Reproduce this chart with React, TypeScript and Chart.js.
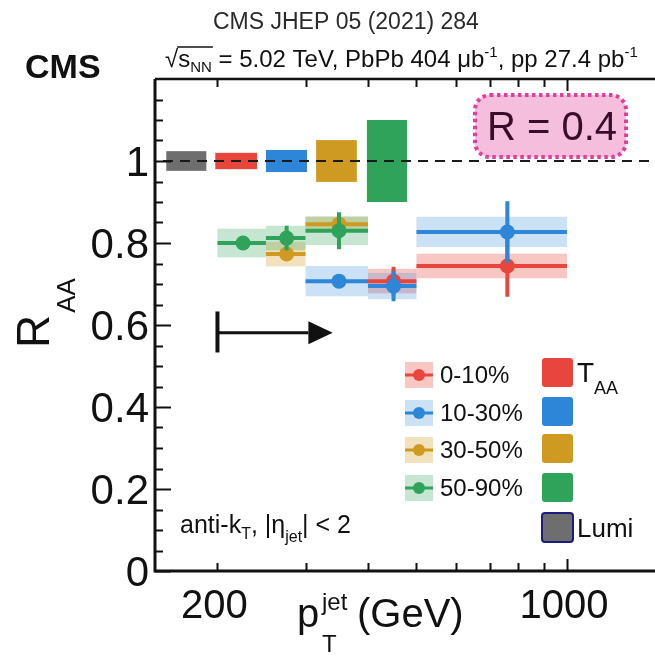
import React, { useEffect, useRef } from 'react';
import { Chart, registerables } from 'chart.js';
Chart.register(...registerables);

const FF = "'Liberation Sans', Arial, Helvetica, sans-serif";

// pT bins (GeV)
const binLow = [200, 250, 300, 400, 500];
const binHigh = [250, 300, 400, 500, 1000];
const binPoint = [225, 275, 350, 450, 760];

// centrality classes
const seriesNames = ['0-10%', '10-30%', '30-50%', '50-90%'];
const seriesColors = ['#e8463c', '#2e86d9', '#cf9a22', '#2fa35a'];
const seriesBoxColors = ['rgba(232,70,60,0.30)', 'rgba(46,134,217,0.25)', 'rgba(207,154,34,0.30)', 'rgba(47,163,90,0.27)'];

const bins010 = [3, 4];
const raa010 = [0.707, 0.744];
const stat010 = [0.035, 0.075];
const sys010 = [0.03, 0.03];

const bins1030 = [2, 3, 4];
const raa1030 = [0.707, 0.695, 0.827];
const stat1030 = [0.012, 0.037, 0.075];
const sys1030 = [0.037, 0.032, 0.037];

const bins3050 = [1, 2];
const raa3050 = [0.773, 0.846];
const stat3050 = [0.015, 0.02];
const sys3050 = [0.03, 0.018];

const bins5090 = [0, 1, 2];
const raa5090 = [0.80, 0.812, 0.83];
const stat5090 = [0.012, 0.03, 0.045];
const sys5090 = [0.035, 0.03, 0.035];

// normalisation uncertainties at RAA = 1 (Lumi, TAA per class)
const normNames = ['Lumi', '0-10%', '10-30%', '30-50%', '50-90%'];
const normLow = [158, 198, 250, 315, 398];
const normHigh = [190, 240, 302, 380, 479];
const normErr = [0.024, 0.02, 0.027, 0.051, 0.1];
const normColors = ['#6e6e6e', '#e8463c', '#2e86d9', '#cf9a22', '#2fa35a'];

// axis ticks
const xTicks = [200, 300, 400, 500, 600, 700, 800, 900, 1000];
const xLabels = [200, 1000];
const yTicks = [0, 0.05, 0.1, 0.15, 0.2, 0.25, 0.3, 0.35, 0.4, 0.45, 0.5, 0.55, 0.6, 0.65, 0.7, 0.75, 0.8, 0.85, 0.9, 0.95, 1, 1.05, 1.1, 1.15];
const yLabels = [0, 0.2, 0.4, 0.6, 0.8, 1];

// arrow annotation (pT > 200)
const arrowX = [200, 304, 340];
const arrowY = [0.581, 0.633, 0.533, 0.609, 0.553];

const seriesBins = [bins010, bins1030, bins3050, bins5090];
const seriesRaa = [raa010, raa1030, raa3050, raa5090];
const seriesStat = [stat010, stat1030, stat3050, stat5090];
const seriesSys = [sys010, sys1030, sys3050, sys5090];

function buildDatasets() {
  const ds: any[] = [];
  // draw order bottom -> top: red, blue, gold, green ; lower `order` is drawn on top
  for (let s = 0; s < 4; s++) {
    const base = (3 - s) * 3;
    const h: any[] = [];
    const v: any[] = [];
    const m: any[] = [];
    seriesBins[s].forEach((b, i) => {
      const val = seriesRaa[s][i];
      const e = seriesStat[s][i];
      h.push({ x: binLow[b], y: val }, { x: binHigh[b], y: val }, { x: binHigh[b], y: null });
      v.push({ x: binPoint[b], y: val - e }, { x: binPoint[b], y: val + e }, { x: binPoint[b], y: null });
      m.push({ x: binPoint[b], y: val });
    });
    ds.push({
      type: 'line', label: seriesNames[s] + ' bins', data: h, order: base + 2,
      borderColor: seriesColors[s], borderWidth: 4, pointRadius: 0, fill: false, spanGaps: false, borderCapStyle: 'butt',
    });
    ds.push({
      type: 'line', label: seriesNames[s] + ' stat', data: v, order: base + 1,
      borderColor: seriesColors[s], borderWidth: 4, pointRadius: 0, fill: false, spanGaps: false, borderCapStyle: 'butt',
    });
    ds.push({
      type: 'scatter', label: seriesNames[s], data: m, order: base,
      backgroundColor: seriesColors[s], borderColor: seriesColors[s], borderWidth: 0, pointRadius: 7.5, pointHoverRadius: 7.5,
    });
  }
  return ds;
}

function parts(ctx: CanvasRenderingContext2D, x: number, y: number, list: any[]) {
  let cx = x;
  for (const p of list) {
    ctx.font = `${p.w || 'normal'} ${p.s}px ${FF}`;
    ctx.fillText(p.t, cx, y + (p.dy || 0));
    cx += ctx.measureText(p.t).width + (p.dx || 0);
  }
  return cx;
}

const drawPlugin = {
  id: 'cmsDraw',
  beforeDatasetsDraw(chart: any) {
    const { ctx, chartArea: ca, scales } = chart;
    const xs = scales.x, ys = scales.y;
    ctx.save();
    ctx.beginPath();
    ctx.rect(ca.left, ca.top, ca.right - ca.left, ca.bottom - ca.top);
    ctx.clip();
    // normalisation boxes
    for (let i = 0; i < normLow.length; i++) {
      const x0 = xs.getPixelForValue(normLow[i]);
      const x1 = xs.getPixelForValue(normHigh[i]);
      const y0 = ys.getPixelForValue(1 + normErr[i]);
      const y1 = ys.getPixelForValue(1 - normErr[i]);
      ctx.fillStyle = normColors[i];
      ctx.fillRect(x0, y0, x1 - x0, y1 - y0);
    }
    // dashed unity line
    ctx.setLineDash([10, 7]);
    ctx.lineWidth = 2;
    ctx.strokeStyle = '#1a1a1a';
    ctx.beginPath();
    const y1p = ys.getPixelForValue(1);
    ctx.moveTo(ca.left + 8, y1p);
    ctx.lineTo(ca.right, y1p);
    ctx.stroke();
    ctx.setLineDash([]);
    // systematic boxes
    for (let s = 0; s < 4; s++) {
      ctx.fillStyle = seriesBoxColors[s];
      seriesBins[s].forEach((b, i) => {
        const x0 = xs.getPixelForValue(binLow[b]);
        const x1 = xs.getPixelForValue(binHigh[b]);
        const yt = ys.getPixelForValue(seriesRaa[s][i] + seriesSys[s][i]);
        const yb = ys.getPixelForValue(seriesRaa[s][i] - seriesSys[s][i]);
        ctx.fillRect(x0, yt, x1 - x0, yb - yt);
      });
    }
    ctx.restore();
  },
  afterDraw(chart: any) {
    const { ctx, chartArea: ca, scales } = chart;
    const xs = scales.x, ys = scales.y;
    ctx.save();
    ctx.fillStyle = '#111';
    ctx.strokeStyle = '#111';
    // frame
    ctx.lineWidth = 3;
    ctx.beginPath();
    ctx.moveTo(ca.left, ca.top);
    ctx.lineTo(ca.left, ca.bottom);
    ctx.lineTo(ca.right, ca.bottom);
    ctx.stroke();
    ctx.lineWidth = 2.5;
    ctx.beginPath();
    ctx.moveTo(ca.left, ca.top);
    ctx.lineTo(ca.right, ca.top);
    ctx.stroke();
    // ticks
    ctx.lineWidth = 2;
    for (const t of yTicks) {
      const yp = Math.round(ys.getPixelForValue(t)) + 0.5;
      const len = yLabels.some((l) => Math.abs(l - t) < 1e-6) ? 16 : 8;
      ctx.beginPath();
      ctx.moveTo(ca.left, yp);
      ctx.lineTo(ca.left + len, yp);
      ctx.stroke();
    }
    for (const t of xTicks) {
      const xp = Math.round(xs.getPixelForValue(t)) + 0.5;
      const len = t === 1000 ? 12 : 8;
      ctx.beginPath();
      ctx.moveTo(xp, ca.bottom);
      ctx.lineTo(xp, ca.bottom - len);
      ctx.moveTo(xp, ca.top);
      ctx.lineTo(xp, ca.top + len);
      ctx.stroke();
    }
    // tick labels
    ctx.font = `42px ${FF}`;
    ctx.textAlign = 'right';
    ctx.textBaseline = 'middle';
    for (const l of yLabels) {
      ctx.fillText(String(l), ca.left - 6, ys.getPixelForValue(l) + 3);
    }
    ctx.font = `40px ${FF}`;
    ctx.textAlign = 'center';
    ctx.textBaseline = 'alphabetic';
    for (const l of xLabels) {
      ctx.fillText(String(l), xs.getPixelForValue(l) - 3, 618);
    }
    ctx.textAlign = 'left';
    // x title
    ctx.font = `40px ${FF}`;
    ctx.fillText('p', 297, 627);
    ctx.font = `24px ${FF}`;
    ctx.fillText('jet', 322, 610);
    ctx.fillText('T', 322, 652);
    ctx.font = `40px ${FF}`;
    ctx.fillText('(GeV)', 357, 627);
    // y title
    ctx.save();
    ctx.translate(49, 348);
    ctx.rotate(-Math.PI / 2);
    ctx.font = `46px ${FF}`;
    ctx.fillText('R', 0, 0);
    const rw = ctx.measureText('R').width;
    ctx.font = `26px ${FF}`;
    ctx.fillText('AA', rw + 2, 26);
    ctx.restore();
    // header
    ctx.fillStyle = '#2a2a2a';
    ctx.font = `23px ${FF}`;
    ctx.fillText('CMS JHEP 05 (2021) 284', 213, 29);
    ctx.fillStyle = '#111';
    ctx.font = `bold 34px ${FF}`;
    ctx.fillText('CMS', 25, 78);
    // sqrt line
    const bx = 165, by = 67;
    const fs = 24;
    ctx.font = `${fs}px ${FF}`;
    ctx.fillText('\u221A', bx, by);
    const sqw = ctx.measureText('\u221A').width;
    const endNN = parts(ctx, bx + sqw, by, [{ t: 's', s: fs }, { t: 'NN', s: 15, dy: 5 }]);
    ctx.lineWidth = 1.5;
    ctx.beginPath();
    ctx.moveTo(bx + sqw - 1, by - 20);
    ctx.lineTo(endNN + 1, by - 20);
    ctx.stroke();
    parts(ctx, endNN, by, [
      { t: ' = 5.02 TeV, PbPb 404 \u03BCb', s: fs },
      { t: '-1', s: 15, dy: -10 },
      { t: ', pp 27.4 pb', s: fs },
      { t: '-1', s: 15, dy: -10 },
    ]);
    // anti-kT text
    parts(ctx, 180, 533, [
      { t: 'anti-k', s: 25 },
      { t: 'T', s: 16, dy: 6 },
      { t: ', |\u03B7', s: 25 },
      { t: 'jet', s: 16, dy: 9 },
      { t: '| < 2', s: 25 },
    ]);
    // R box
    const rx0 = 475, ry0 = 95, rx1 = 626, ry1 = 157, rr = 15;
    ctx.beginPath();
    ctx.roundRect(rx0, ry0, rx1 - rx0, ry1 - ry0, rr);
    ctx.fillStyle = '#f4bedc';
    ctx.fill();
    ctx.setLineDash([3.5, 3.5]);
    ctx.lineWidth = 4;
    ctx.strokeStyle = '#e43c9c';
    ctx.stroke();
    ctx.setLineDash([]);
    ctx.fillStyle = '#3a0c2c';
    ctx.font = `40px ${FF}`;
    ctx.fillText('R = 0.4', 487, 140);
    // arrow
    ctx.strokeStyle = '#111';
    ctx.fillStyle = '#111';
    const ax0 = xs.getPixelForValue(arrowX[0]);
    const ax1 = xs.getPixelForValue(arrowX[1]);
    const ax2 = xs.getPixelForValue(arrowX[2]);
    ctx.lineWidth = 4;
    ctx.beginPath();
    ctx.moveTo(ax0, ys.getPixelForValue(arrowY[1]));
    ctx.lineTo(ax0, ys.getPixelForValue(arrowY[2]));
    ctx.stroke();
    ctx.lineWidth = 3;
    ctx.beginPath();
    ctx.moveTo(ax0, ys.getPixelForValue(arrowY[0]));
    ctx.lineTo(ax1, ys.getPixelForValue(arrowY[0]));
    ctx.stroke();
    ctx.beginPath();
    ctx.moveTo(ax1, ys.getPixelForValue(arrowY[3]));
    ctx.lineTo(ax2, ys.getPixelForValue(arrowY[0]));
    ctx.lineTo(ax1, ys.getPixelForValue(arrowY[4]));
    ctx.closePath();
    ctx.fill();
    // legend
    const rowsY = [375, 413, 450, 488];
    for (let s = 0; s < 4; s++) {
      const cy = rowsY[s];
      ctx.fillStyle = seriesBoxColors[s];
      ctx.fillRect(405, cy - 13, 28, 26);
      ctx.strokeStyle = seriesColors[s];
      ctx.lineWidth = 3;
      ctx.beginPath();
      ctx.moveTo(405, cy);
      ctx.lineTo(433, cy);
      ctx.stroke();
      ctx.fillStyle = seriesColors[s];
      ctx.beginPath();
      ctx.arc(419, cy, 6, 0, Math.PI * 2);
      ctx.fill();
      ctx.fillStyle = '#111';
      ctx.font = `24px ${FF}`;
      ctx.textBaseline = 'middle';
      ctx.fillText(seriesNames[s], 440, cy + 1);
      ctx.textBaseline = 'alphabetic';
    }
    const sqY = [358, 397, 434, 473, 513];
    const sqCols = [normColors[1], normColors[2], normColors[3], normColors[4], normColors[0]];
    for (let i = 0; i < 5; i++) {
      ctx.beginPath();
      ctx.roundRect(542, sqY[i], 31, 29, 3);
      ctx.fillStyle = sqCols[i];
      ctx.fill();
      if (i === 4) {
        ctx.lineWidth = 2;
        ctx.strokeStyle = '#1c1c80';
        ctx.stroke();
      }
    }
    ctx.fillStyle = '#111';
    parts(ctx, 577, 382, [{ t: 'T', s: 28 }, { t: 'AA', s: 18, dy: 12 }]);
    ctx.font = `26px ${FF}`;
    ctx.fillText('Lumi', 577, 537);
    ctx.restore();
  },
};

export default function App() {
  const ref = useRef<HTMLCanvasElement>(null);
  useEffect(() => {
    document.body.style.margin = '0';
    const chart = new Chart(ref.current as HTMLCanvasElement, {
      type: 'scatter',
      data: { datasets: buildDatasets() },
      options: {
        responsive: false,
        animation: false,
        devicePixelRatio: 1,
        layout: { autoPadding: false, padding: { left: 155, top: 79, right: 0, bottom: 85 } },
        plugins: { legend: { display: false }, tooltip: { enabled: false }, title: { display: false } },
        scales: {
          x: { type: 'logarithmic', min: 150, max: 1500, display: false },
          y: { type: 'linear', min: 0, max: 1.2, display: false },
        },
      } as any,
      plugins: [drawPlugin],
    });
    return () => chart.destroy();
  }, []);
  return (
    <div style={{ width: 655, height: 656, background: '#fff' }}>
      <canvas ref={ref} width={655} height={656} style={{ display: 'block' }} />
    </div>
  );
}
